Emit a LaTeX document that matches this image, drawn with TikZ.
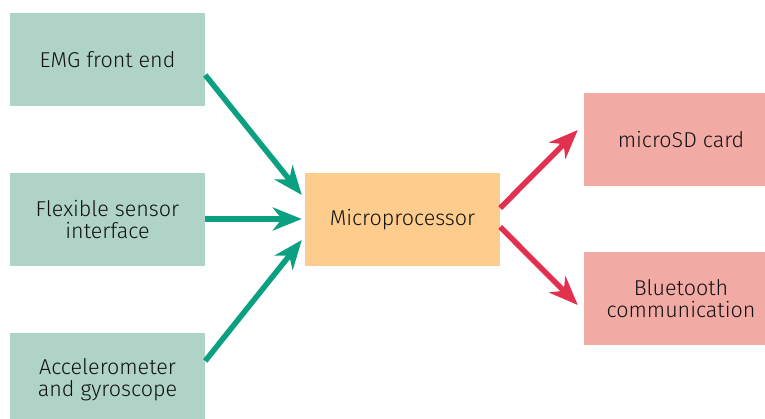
\documentclass[tikz,border=0pt]{standalone}
\usepackage{fontspec}
\setmainfont{Fira Sans}[UprightFont=* Light]
\usetikzlibrary{arrows.meta,calc}
\definecolor{gbox}{HTML}{AFD3C6}
\definecolor{garrow}{HTML}{0BA081}
\definecolor{obox}{HTML}{FECD8D}
\definecolor{pbox}{HTML}{F2AAA5}
\definecolor{rarrow}{HTML}{E2304F}
\definecolor{txt}{HTML}{111111}
\tikzset{
  box/.style={minimum width=195pt, minimum height=93pt, inner sep=0pt, align=center,
    font=\fontsize{21.5}{21.5}\selectfont, text=txt},
  gnode/.style={box, fill=gbox},
  onode/.style={box, fill=obox},
  pnode/.style={box, fill=pbox, minimum width=194pt},
  conn/.style={line width=5.5pt, -{Stealth[length=29pt, width=23pt, inset=9pt]}},
  gconn/.style={conn, draw=garrow, fill=garrow},
  rconn/.style={conn, draw=rarrow, fill=rarrow},
}
\begin{document}
\begin{tikzpicture}[x=1pt,y=1pt]
\useasboundingbox (0,0) rectangle (765,419);
\clip (0,0) rectangle (765,419);
\node[gnode] (emg) at (107.5,359.5) {EMG front end};
\node[gnode] (flex) at (107.5,199.5) {Flexible sensor\\interface};
\node[gnode] (acc) at (107.5,39.5) {Accelerometer\\and gyroscope};
\node[onode] (micro) at (402.5,199.5) {Microprocessor};
\node[pnode] (sd) at (681,279.5) {microSD card};
\node[pnode] (bt) at (681,120.5) {Bluetooth\\communication};
\draw[gconn] ([yshift=-15.5pt]emg.east) -- ([xshift=-3pt,yshift=24.5pt]micro.west);
\draw[gconn] ([yshift=0.5pt]flex.east) -- ([xshift=-3pt,yshift=0.5pt]micro.west);
\draw[gconn] ([yshift=18.5pt]acc.east) -- ([xshift=-3pt,yshift=-20.5pt]micro.west);
\draw[rconn] ([yshift=11.5pt]micro.east) -- ([xshift=-6pt,yshift=9.5pt]sd.west);
\draw[rconn] ([yshift=-7.5pt]micro.east) -- ([xshift=-6pt,yshift=-6.5pt]bt.west);
\end{tikzpicture}
\end{document}
